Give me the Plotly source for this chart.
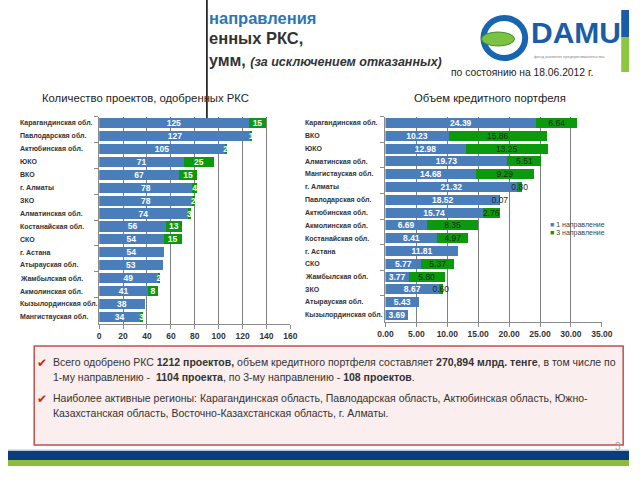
import plotly.graph_objects as go

# ---------------- data ----------------
left_regions = ["Карагандинская обл.", "Павлодарская обл.", "Актюбинская обл.", "ЮКО", "ВКО",
                "г. Алматы", "ЗКО", "Алматинская обл.", "Костанайская обл.", "СКО", "г. Астана",
                "Атырауская обл.", "Жамбылская обл.", "Акмолинская обл.", "Кызылординская обл.",
                "Мангистауская обл."]
left_dir1 = [125, 127, 105, 71, 67, 78, 78, 74, 56, 54, 54, 53, 49, 41, 38, 34]
left_dir3 = [15, 1, 2, 25, 15, 4, 2, 3, 13, 15, 0, 0, 2, 8, 0, 3]
left_ticks = [0, 20, 40, 60, 80, 100, 120, 140, 160]

right_regions = ["Карагандинская обл.", "ВКО", "ЮКО", "Алматинская обл.", "Мангистауская обл.",
                 "г. Алматы", "Павлодарская обл.", "Актюбинская обл.", "Акмолинская обл.",
                 "Костанайская обл.", "г. Астана", "СКО", "Жамбылская обл.", "ЗКО",
                 "Атырауская обл.", "Кызылординская обл."]
right_dir1 = [24.39, 10.23, 12.98, 19.73, 14.68, 21.32, 18.52, 15.74, 6.69, 8.41, 11.81, 5.77, 3.77, 8.67, 5.43, 3.69]
right_dir3 = [6.64, 15.86, 13.25, 5.51, 9.29, 0.80, 0.07, 2.76, 8.35, 4.97, 0.0, 5.37, 5.80, 0.60, 0.0, 0.0]
right_ticks = [0, 5, 10, 15, 20, 25, 30, 35]

series_names = ["1 направление", "3 направление"]
series_colors = ["#4a7ebb", "#0b9a0b"]

FONT = "Liberation Sans, Arial, sans-serif"
W, H = 640, 480


def px(x):
    return x / W


def py(y):
    return 1 - y / H


fig = go.Figure()

# ---- left chart ----
fig.add_trace(go.Bar(
    x=left_dir1, y=left_regions, orientation="h", name=series_names[0],
    marker=dict(color=series_colors[0], line=dict(width=0)),
    text=[str(v) if v else "" for v in left_dir1], textposition="inside",
    insidetextanchor="middle", textangle=0, constraintext="none",
    textfont=dict(family=FONT, size=8.5, color="white", weight="bold"),
    xaxis="x", yaxis="y", showlegend=False))
fig.add_trace(go.Bar(
    x=left_dir3, y=left_regions, orientation="h", name=series_names[1],
    marker=dict(color=series_colors[1], line=dict(width=0)),
    text=[str(v) if v else "" for v in left_dir3], textposition="inside",
    insidetextanchor="middle", textangle=0, constraintext="none",
    textfont=dict(family=FONT, size=8.5, color="white", weight="bold"),
    xaxis="x", yaxis="y", showlegend=False))

# ---- right chart ----
fig.add_trace(go.Bar(
    x=right_dir1, y=right_regions, orientation="h", name=series_names[0],
    marker=dict(color=series_colors[0], line=dict(width=0)),
    text=[f"{v:.2f}" if v else "" for v in right_dir1], textposition="inside",
    insidetextanchor="middle", textangle=0, constraintext="none",
    textfont=dict(family=FONT, size=8.5, color="white", weight="bold"),
    xaxis="x2", yaxis="y2", showlegend=False))
fig.add_trace(go.Bar(
    x=right_dir3, y=right_regions, orientation="h", name=series_names[1],
    marker=dict(color=series_colors[1], line=dict(width=0)),
    text=[f"{v:.2f}" if v else "" for v in right_dir3], textposition="inside",
    insidetextanchor="middle", textangle=0, constraintext="none",
    textfont=dict(family=FONT, size=8.5, color="#1a2a1a"),
    xaxis="x2", yaxis="y2", showlegend=False))

axis_common = dict(showline=True, linecolor="#8c8c8c", linewidth=1, ticks="outside",
                   ticklen=4, tickcolor="#8c8c8c", zeroline=False)

fig.update_layout(
    width=W, height=H, margin=dict(l=0, r=0, t=0, b=0),
    paper_bgcolor="white", plot_bgcolor="rgba(0,0,0,0)",
    barmode="stack", bargap=0.22, showlegend=False,
    font=dict(family=FONT, color="#333333"),
    xaxis=dict(domain=[px(94), px(291)], range=[0, 160], tickvals=left_ticks,
               showgrid=True, gridcolor="#7f7f7f", gridwidth=1,
               tickfont=dict(size=8.5, color="#333333", weight="bold"), anchor="y",
               **axis_common),
    yaxis=dict(domain=[py(323.5), py(116.5)], autorange="reversed", type="category",
               categoryorder="array", categoryarray=left_regions, showticklabels=False,
               tickson="boundaries", showgrid=False, anchor="x", **axis_common),
    xaxis2=dict(domain=[px(389), px(612)], range=[0, 35], tickvals=right_ticks,
                tickformat=".2f", showgrid=True, gridcolor="#7f7f7f", gridwidth=1,
                tickfont=dict(size=8.5, color="#333333", weight="bold"), anchor="y2",
                **axis_common),
    yaxis2=dict(domain=[py(321.5), py(116.5)], autorange="reversed", type="category",
                categoryorder="array", categoryarray=right_regions, showticklabels=False,
                tickson="boundaries", showgrid=False, anchor="x2", **axis_common),
)

ann = []
# category labels (left aligned)
for r in left_regions:
    ann.append(dict(x=px(10), xref="paper", y=r, yref="y", text=r, showarrow=False,
                    xanchor="left", yanchor="middle",
                    font=dict(family=FONT, size=7, color="#333333", weight="bold")))
for r in right_regions:
    ann.append(dict(x=px(304), xref="paper", y=r, yref="y2", text=r, showarrow=False,
                    xanchor="left", yanchor="middle",
                    font=dict(family=FONT, size=7, color="#333333", weight="bold")))

# legend (manual, compact)
for i, (n, c) in enumerate(zip(series_names, series_colors)):
    ann.append(dict(x=px(557), y=py(225 + 7.5 * i), xref="paper", yref="paper",
                    text=f"<span style='color:{c}'>■</span> {n}", showarrow=False,
                    xanchor="left", yanchor="middle",
                    font=dict(family=FONT, size=7, color="#444444")))

# subplot titles
ann.append(dict(x=px(33), y=py(98), xref="paper", yref="paper", showarrow=False,
                text="Количество проектов, одобренных РКС", xanchor="left", yanchor="middle",
                font=dict(family=FONT, size=11.3, color="#222222")))
ann.append(dict(x=px(416), y=py(98), xref="paper", yref="paper", showarrow=False,
                text="Объем кредитного портфеля", xanchor="left", yanchor="middle",
                font=dict(family=FONT, size=11.3, color="#222222")))
ann.append(dict(x=px(455), y=py(72), xref="paper", yref="paper", showarrow=False,
                text="по состоянию на 18.06.2012 г.", xanchor="left", yanchor="middle",
                font=dict(family=FONT, size=10.3, color="#222222")))

# slide title (partly hidden)
ann.append(dict(x=px(205), y=py(18), xref="paper", yref="paper", showarrow=False,
                text="<b>направления</b>", xanchor="left", yanchor="middle",
                font=dict(family=FONT, size=16.5, color="#2e75b6")))
ann.append(dict(x=px(205), y=py(38), xref="paper", yref="paper", showarrow=False,
                text="<b>енных РКС,</b>", xanchor="left", yanchor="middle",
                font=dict(family=FONT, size=16.5, color="#333333")))
ann.append(dict(x=px(205), y=py(60), xref="paper", yref="paper", showarrow=False,
                text="<b>умм, </b><b><i><span style='font-size:12.5px'>(за исключением отказанных)</span></i></b>",
                xanchor="left", yanchor="middle",
                font=dict(family=FONT, size=16, color="#333333")))

# logo text
ann.append(dict(x=px(537), y=py(33), xref="paper", yref="paper", showarrow=False,
                text="<b>DAMU</b>", xanchor="left", yanchor="middle",
                font=dict(family=FONT, size=30, color="#1a5ca8")))
ann.append(dict(x=px(540), y=py(56), xref="paper", yref="paper", showarrow=False,
                text="фонд развития предпринимательства", xanchor="left", yanchor="middle",
                font=dict(family=FONT, size=4, color="#888888")))

# info box text
box_lines = [
    (362, "Всего одобрено РКС <b>1212 проектов,</b> объем кредитного портфеля составляет <b>270,894 млрд. тенге</b>, в том числе по"),
    (377, "1-му направлению -  <b>1104 проекта</b>, по 3-му направлению - <b>108 проектов</b>."),
    (398, "Наиболее активные регионы: Карагандинская область, Павлодарская область, Актюбинская область, Южно-"),
    (413, "Казахстанская область, Восточно-Казахстанская область, г. Алматы."),
]
for yy, t in box_lines:
    ann.append(dict(x=px(44), y=py(yy), xref="paper", yref="paper", showarrow=False,
                    text=t, xanchor="left", yanchor="middle", align="left",
                    font=dict(family=FONT, size=10.5, color="#333333")))
for yy in (363, 399):
    ann.append(dict(x=px(28), y=py(yy), xref="paper", yref="paper", showarrow=False,
                    text="✔", xanchor="left", yanchor="middle",
                    font=dict(family="DejaVu Sans", size=12, color="#d42020")))

ann.append(dict(x=px(634), y=py(446), xref="paper", yref="paper", showarrow=False,
                text="3", xanchor="right", yanchor="middle",
                font=dict(family=FONT, size=10, color="#a0a0a0")))

fig.update_layout(annotations=ann)

shapes = [
    # vertical black line
    dict(type="line", xref="paper", yref="paper", x0=px(205), x1=px(205), y0=py(0), y1=py(118),
         line=dict(color="black", width=1.5)),
    # logo ring
    dict(type="circle", xref="paper", yref="paper", x0=px(490), x1=px(533), y0=py(58), y1=py(18),
         line=dict(color="#1565b0", width=6), fillcolor="white"),
    dict(type="circle", xref="paper", yref="paper", x0=px(488), x1=px(522), y0=py(46), y1=py(32),
         line=dict(color="#3f8f2a", width=1), fillcolor="#7cc242"),
    # right edge bars
    dict(type="rect", xref="paper", yref="paper", x0=px(632), x1=px(640), y0=py(37), y1=py(10),
         line=dict(width=0), fillcolor="#1a5ca8"),
    dict(type="rect", xref="paper", yref="paper", x0=px(632), x1=px(640), y0=py(72), y1=py(37),
         line=dict(width=0), fillcolor="#8dc63f"),
    # info box
    dict(type="rect", xref="paper", yref="paper", x0=px(27), x1=px(634), y0=py(445), y1=py(346),
         line=dict(color="#c0504d", width=1.5), fillcolor="#fbeeee", layer="below"),
    # bottom bands
    dict(type="rect", xref="paper", yref="paper", x0=0, x1=1, y0=py(451), y1=py(449.5),
         line=dict(width=0), fillcolor="#b8c8dc"),
    dict(type="rect", xref="paper", yref="paper", x0=0, x1=1, y0=py(460), y1=py(451),
         line=dict(width=0), fillcolor="#0b3d7c"),
    dict(type="rect", xref="paper", yref="paper", x0=0, x1=1, y0=py(466), y1=py(460),
         line=dict(width=0), fillcolor="#8dbb3a"),
]
fig.update_layout(shapes=shapes)

fig.write_html("out.html", config={"displayModeBar": False},
               post_script="document.body.style.margin='0';")
